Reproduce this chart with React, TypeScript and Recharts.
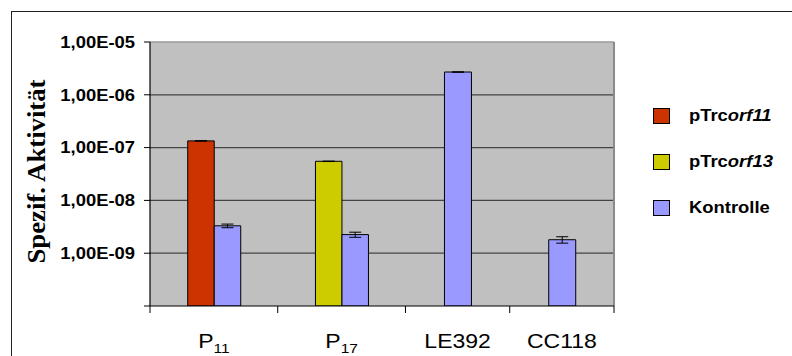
import React from 'react';
import {
  ComposedChart,
  Bar,
  XAxis,
  YAxis,
  CartesianGrid,
  ErrorBar,
  Cell,
  Legend,
  ReferenceLine,
} from 'recharts';

// ---- data ----
const categories = ['P11', 'P17', 'LE392', 'CC118'];
const categoryMain = ['P', 'P', 'LE392', 'CC118'];
const categorySub = ['11', '17', '', ''];

const plasmidValues: (number | null)[] = [1.34e-7, 5.5e-8, null, null];
const plasmidErrors: (number | null)[] = [1.2e-9, 5e-10, null, null];
const plasmidColors = ['#CC3300', '#CCCC00', '#CC3300', '#CC3300'];

const kontrolleValues = [3.3e-9, 2.25e-9, 2.7e-6, 1.8e-9];
const kontrolleErrors = [2.6e-10, 2.5e-10, 2e-8, 2.5e-10];

const yTicks = [1e-10, 1e-9, 1e-8, 1e-7, 1e-6, 1e-5];
const yTickLabels = ['', '1,00E-09', '1,00E-08', '1,00E-07', '1,00E-06', '1,00E-05'];
const gridValues = [1e-9, 1e-8, 1e-7, 1e-6];

const legendLabels: [string, string][] = [
  ['pTrc', 'orf11'],
  ['pTrc', 'orf13'],
  ['Kontrolle', ''],
];
const legendColors = ['#CC3300', '#CCCC00', '#9999FF'];
const kontrolleColor = '#9999FF';

// ---- layout (relative category widths of the original axis) ----
const categorySpans = [1.225, 1.225, 1, 1];
const boundaries: number[] = [0];
categorySpans.forEach((s, i) => boundaries.push(boundaries[i] + s));
const centers = categorySpans.map((s, i) => boundaries[i] + s / 2);
const total = boundaries[boundaries.length - 1];
const xTicks = [...boundaries, ...centers].sort((a, b) => a - b);

const data = categories.map((name, i) => {
  const paired = plasmidValues[i] != null;
  return {
    name,
    pos: centers[i],
    plasmid: plasmidValues[i],
    plasmidErr: plasmidErrors[i],
    kontrollePair: paired ? kontrolleValues[i] : null,
    kontrollePairErr: paired ? kontrolleErrors[i] : null,
    kontrolleSingle: paired ? null : kontrolleValues[i],
    kontrolleSingleErr: paired ? null : kontrolleErrors[i],
  };
});

const SANS = "Arial, 'Liberation Sans', sans-serif";
const SERIF = "'Times New Roman', 'Liberation Serif', serif";
const STRETCH = 1.15;

const XTick = (props: any) => {
  const { x, y, payload } = props;
  const v = payload.value;
  const ci = centers.findIndex((c) => Math.abs(c - v) < 1e-6);
  if (ci < 0) {
    return <line x1={x} x2={x} y1={y} y2={y + 7} stroke="#000" strokeWidth={1} />;
  }
  return (
    <text
      transform={`translate(${x},${y + 42}) scale(${STRETCH},1)`}
      textAnchor="middle"
      fontFamily={SANS}
      fontSize={20}
      fill="#000"
    >
      <tspan>{categoryMain[ci]}</tspan>
      {categorySub[ci] ? (
        <tspan fontSize={13.5} dy={5}>
          {categorySub[ci]}
        </tspan>
      ) : null}
    </text>
  );
};

const YTick = (props: any) => {
  const { x, y, payload } = props;
  const idx = yTicks.findIndex((t) => Math.abs(Math.log10(t) - Math.log10(payload.value)) < 1e-6);
  const label = idx >= 0 ? yTickLabels[idx] : '';
  if (!label) return null;
  return (
    <text
      transform={`translate(${x - 7},${y}) scale(${STRETCH},1)`}
      textAnchor="end"
      dy={5.8}
      fontFamily={SANS}
      fontWeight="bold"
      fontSize={16}
      fill="#000"
    >
      {label}
    </text>
  );
};

const TitleLabel = (props: any) => {
  const vb = props.viewBox || { x: 0, y: 42, width: 150, height: 264 };
  const cx = vb.x + 45;
  const cy = vb.y + vb.height / 2 - 2.5;
  return (
    <text
      x={cx}
      y={cy}
      transform={`rotate(-90 ${cx} ${cy})`}
      textAnchor="middle"
      fontFamily={SERIF}
      fontWeight="bold"
      fontSize={25}
      textLength={184}
      lengthAdjust="spacingAndGlyphs"
      fill="#000"
    >
      Spezif. Aktivität
    </text>
  );
};

const LegendContent = () => (
  <div style={{ fontFamily: SANS, fontWeight: 'bold', fontSize: 16, color: '#000' }}>
    {legendLabels.map(([plain, ital], i) => (
      <div key={i} style={{ height: 46, display: 'flex', alignItems: 'center', position: 'relative' }}>
        <div
          style={{
            width: 15,
            height: 14,
            background: legendColors[i],
            border: '1px solid #000',
            marginLeft: 1,
          }}
        />
        <span
          style={{
            position: 'absolute',
            left: 37,
            transform: `scaleX(${STRETCH})`,
            transformOrigin: 'left center',
            whiteSpace: 'nowrap',
            lineHeight: '16px',
          }}
        >
          {plain}
          {ital ? <i>{ital}</i> : null}
        </span>
      </div>
    ))}
  </div>
);

export default function App() {
  return (
    <div
      style={{
        position: 'absolute',
        left: 0,
        top: 0,
        width: 792,
        height: 356,
        overflow: 'hidden',
        background: '#fff',
      }}
    >
      <div
        style={{
          position: 'absolute',
          left: 11,
          top: 11,
          width: 800,
          height: 400,
          borderTop: '1px solid #222',
          borderLeft: '1px solid #222',
        }}
      />
      <div style={{ position: 'absolute', left: 0, top: 0 }}>
        <ComposedChart
          width={792}
          height={356}
          data={data}
          barGap={0}
          margin={{ top: 42, right: 178, bottom: 0, left: 0 }}
        >
          <CartesianGrid
            xAxisId="labels"
            yAxisId="y"
            vertical={false}
            fill="#C0C0C0"
            fillOpacity={1}
            stroke="#444"
            strokeWidth={1.3}
            horizontalValues={gridValues}
          />
          <XAxis
            xAxisId="labels"
            type="number"
            scale="linear"
            dataKey="pos"
            domain={[0, total]}
            allowDataOverflow
            ticks={xTicks}
            interval={0}
            tick={<XTick />}
            tickLine={false}
            tickSize={0}
            tickMargin={0}
            axisLine={{ stroke: '#000', strokeWidth: 1.2 }}
            height={50}
          />
          <XAxis
            xAxisId="pair"
            hide
            type="number"
            scale="linear"
            dataKey="pos"
            domain={[0, total]}
            allowDataOverflow
            ticks={centers}
          />
          <XAxis
            xAxisId="single"
            hide
            type="number"
            scale="linear"
            dataKey="pos"
            domain={[0, total]}
            allowDataOverflow
            ticks={centers}
          />
          <YAxis
            yAxisId="y"
            type="number"
            scale="log"
            domain={[1e-10, 1e-5]}
            allowDataOverflow
            ticks={yTicks}
            interval={0}
            width={150}
            tick={<YTick />}
            tickSize={6}
            tickLine={{ stroke: '#000' }}
            axisLine={{ stroke: '#000', strokeWidth: 1.2 }}
            label={<TitleLabel />}
          />
          <ReferenceLine xAxisId="labels" yAxisId="y" y={1e-5} stroke="#9a9a9a" strokeWidth={1.5} />
          <ReferenceLine xAxisId="labels" yAxisId="y" x={total} stroke="#8a8a8a" strokeWidth={2} />
          <Bar
            xAxisId="pair"
            yAxisId="y"
            dataKey="plasmid"
            barSize={26.5}
            stroke="#000"
            strokeWidth={1}
            isAnimationActive={false}
          >
            {data.map((d, i) => (
              <Cell key={i} fill={plasmidColors[i]} />
            ))}
            <ErrorBar dataKey="plasmidErr" width={6} stroke="#000" strokeWidth={1} />
          </Bar>
          <Bar
            xAxisId="pair"
            yAxisId="y"
            dataKey="kontrollePair"
            barSize={26.5}
            fill={kontrolleColor}
            stroke="#000"
            strokeWidth={1}
            isAnimationActive={false}
          >
            <ErrorBar dataKey="kontrollePairErr" width={6} stroke="#000" strokeWidth={1} />
          </Bar>
          <Bar
            xAxisId="single"
            yAxisId="y"
            dataKey="kontrolleSingle"
            barSize={27}
            fill={kontrolleColor}
            stroke="#000"
            strokeWidth={1}
            isAnimationActive={false}
          >
            <ErrorBar dataKey="kontrolleSingleErr" width={6} stroke="#000" strokeWidth={1} />
          </Bar>
          <Legend
            layout="vertical"
            align="center"
            verticalAlign="middle"
            content={<LegendContent />}
            wrapperStyle={{ left: 652, top: 92.5, width: 140, height: 140 }}
          />
        </ComposedChart>
      </div>
    </div>
  );
}
